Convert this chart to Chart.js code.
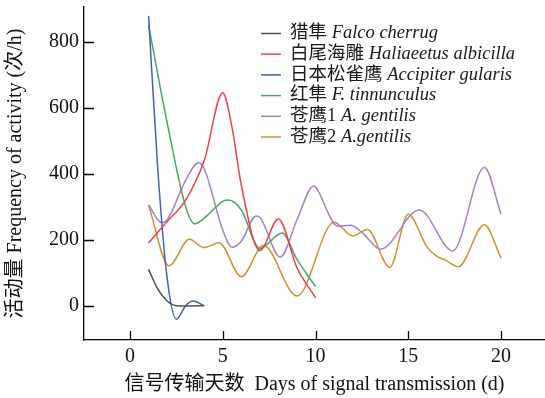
<!DOCTYPE html>
<html lang="zh">
<head>
    <meta charset="UTF-8">
    <title>活动量 Frequency of activity</title>
    <script src="https://cdn.jsdelivr.net/npm/chart.js@4.4.1/dist/chart.umd.min.js"></script>
    <style>
        html, body { margin: 0; padding: 0; background: #fff; }
    </style>
</head>
<body>
    <canvas id="myChart" width="545" height="398"></canvas>
    <script>
        // values (day, activity count per hour)
        const sakerDays = [1, 1.5, 2, 2.5, 3, 4];
        const sakerVals = [110, 50, 14, 0, -1, 0];

        const eagleDays = [1, 2, 3, 4, 5, 5.5, 6, 7, 8, 9, 10];
        const eagleVals = [190, 255, 320, 440, 645, 540, 365, 167, 263, 115, 24];

        const sparrowDays = [1, 1.5, 2, 2.5, 3, 3.4, 4];
        const sparrowVals = [878, 411, 84, -41, 0, 14, 0];

        const kestrelDays = [1, 2, 3, 3.5, 4, 5, 5.3, 6, 7, 8.2, 9, 10];
        const kestrelVals = [850, 555, 300, 248, 265, 316, 320, 290, 173, 220, 140, 58];

        const gos1Days = [1, 1.7, 2, 3, 3.7, 4, 5, 5.5, 6, 6.8, 7, 8.1, 9, 9.9, 10, 11.2, 11.9, 12.5, 13.5, 15.6, 17.4, 19.1, 20];
        const gos1Vals = [305, 252, 260, 380, 433, 415, 229, 177, 195, 272, 268, 147, 260, 363, 360, 241, 244, 222, 171, 290, 166, 419, 278];

        const gos2Days = [1, 2.1, 3.2, 4, 4.8, 6, 7.2, 9, 11, 12, 12.8, 14, 15, 16, 16.5, 17, 17.7, 19.1, 20];
        const gos2Vals = [305, 121, 201, 176, 191, 88, 182, 29, 253, 211, 231, 116, 277, 179, 151, 138, 118, 245, 144];

        const xTicks = [0, 5, 10, 15, 20];
        const yTicks = [0, 200, 400, 600, 800];

        const legendZh = ['猎隼 ', '白尾海雕 ', '日本松雀鹰 ', '红隼 ', '苍鹰1 ', '苍鹰2 '];
        const legendLatin = ['Falco cherrug', 'Haliaeetus albicilla', 'Accipiter gularis', 'F. tinnunculus', 'A. gentilis', 'A.gentilis'];
        const colors = ['#4f4f4f', '#e8424c', '#4263b4', '#4ea463', '#a782c2', '#c99434'];

        const serif = "'Liberation Serif', 'Noto Sans CJK SC', serif";

        function points(days, vals) {
            return days.map((d, i) => ({ x: d, y: vals[i] }));
        }

        const allSeries = [
            points(sakerDays, sakerVals),
            points(eagleDays, eagleVals),
            points(sparrowDays, sparrowVals),
            points(kestrelDays, kestrelVals),
            points(gos1Days, gos1Vals),
            points(gos2Days, gos2Vals)
        ];

        // inward tick marks on both axes
        const innerTicks = {
            id: 'innerTicks',
            afterDraw(chart) {
                const { ctx, chartArea, scales } = chart;
                ctx.save();
                ctx.strokeStyle = '#000';
                ctx.lineWidth = 1.3;
                ctx.beginPath();
                xTicks.forEach(v => {
                    const px = Math.round(scales.x.getPixelForValue(v)) + 0.5;
                    ctx.moveTo(px, chartArea.bottom);
                    ctx.lineTo(px, chartArea.bottom - 9);
                });
                yTicks.forEach(v => {
                    const py = Math.round(scales.y.getPixelForValue(v)) + 0.5;
                    ctx.moveTo(chartArea.left, py);
                    ctx.lineTo(chartArea.left + 10, py);
                });
                ctx.stroke();
                ctx.restore();
            }
        };

        // legend with plain Chinese name and italic Latin name
        const nameLegend = {
            id: 'nameLegend',
            afterDraw(chart) {
                const { ctx, chartArea } = chart;
                const x0 = chartArea.left + 177;
                let y = chartArea.top + 26.5;
                ctx.save();
                ctx.textBaseline = 'middle';
                ctx.fillStyle = '#1a1a1a';
                chart.data.datasets.forEach((ds, i) => {
                    ctx.strokeStyle = ds.borderColor;
                    ctx.lineWidth = 1.5;
                    ctx.beginPath();
                    ctx.moveTo(x0, y);
                    ctx.lineTo(x0 + 20, y);
                    ctx.stroke();
                    ctx.font = "18.5px " + serif;
                    ctx.fillText(legendZh[i], x0 + 29, y);
                    const w = ctx.measureText(legendZh[i]).width;
                    ctx.font = "italic 18.5px " + serif;
                    ctx.fillText(legendLatin[i], x0 + 29 + w, y);
                    y += 20.7;
                });
                ctx.restore();
            }
        };

        const ctx = document.getElementById('myChart').getContext('2d');
        new Chart(ctx, {
            type: 'line',
            data: {
                datasets: allSeries.map((pts, i) => ({
                    label: legendZh[i] + legendLatin[i],
                    data: pts,
                    borderColor: colors[i],
                    backgroundColor: colors[i],
                    borderWidth: 1.5,
                    pointRadius: 0,
                    fill: false,
                    cubicInterpolationMode: 'monotone'
                }))
            },
            options: {
                responsive: false,
                animation: false,
                layout: { padding: { top: 7, right: 0, left: 0, bottom: 0 } },
                plugins: {
                    legend: { display: false },
                    tooltip: { enabled: false }
                },
                scales: {
                    x: {
                        type: 'linear',
                        min: -2.48,
                        max: 22.37,
                        afterBuildTicks: scale => { scale.ticks = xTicks.map(v => ({ value: v })); },
                        afterFit: scale => {
                            scale.height = 58;
                            scale.paddingLeft = 0;
                            scale.paddingRight = 0;
                        },
                        grid: { drawOnChartArea: false, drawTicks: false },
                        border: { display: true, color: '#000', width: 1.3 },
                        ticks: { color: '#111', padding: 5, maxRotation: 0, font: { family: serif, size: 20 } },
                        title: {
                            display: true,
                            text: '信号传输天数  Days of signal transmission (d)',
                            color: '#111',
                            font: { family: serif, size: 20 },
                            padding: { top: 0, bottom: 1 }
                        }
                    },
                    y: {
                        min: -104,
                        max: 905,
                        afterBuildTicks: scale => { scale.ticks = yTicks.map(v => ({ value: v })); },
                        afterFit: scale => {
                            scale.width = 84;
                            scale.paddingTop = 0;
                            scale.paddingBottom = 0;
                        },
                        grid: { drawOnChartArea: false, drawTicks: false },
                        border: { display: true, color: '#000', width: 1.3 },
                        ticks: { color: '#111', padding: 5, font: { family: serif, size: 20 } },
                        title: {
                            display: true,
                            text: '活动量 Frequency of activity (次/h)',
                            color: '#111',
                            font: { family: serif, size: 20 },
                            padding: { top: 4, bottom: 0 }
                        }
                    }
                }
            },
            plugins: [innerTicks, nameLegend]
        });
    </script>
</body>
</html>
